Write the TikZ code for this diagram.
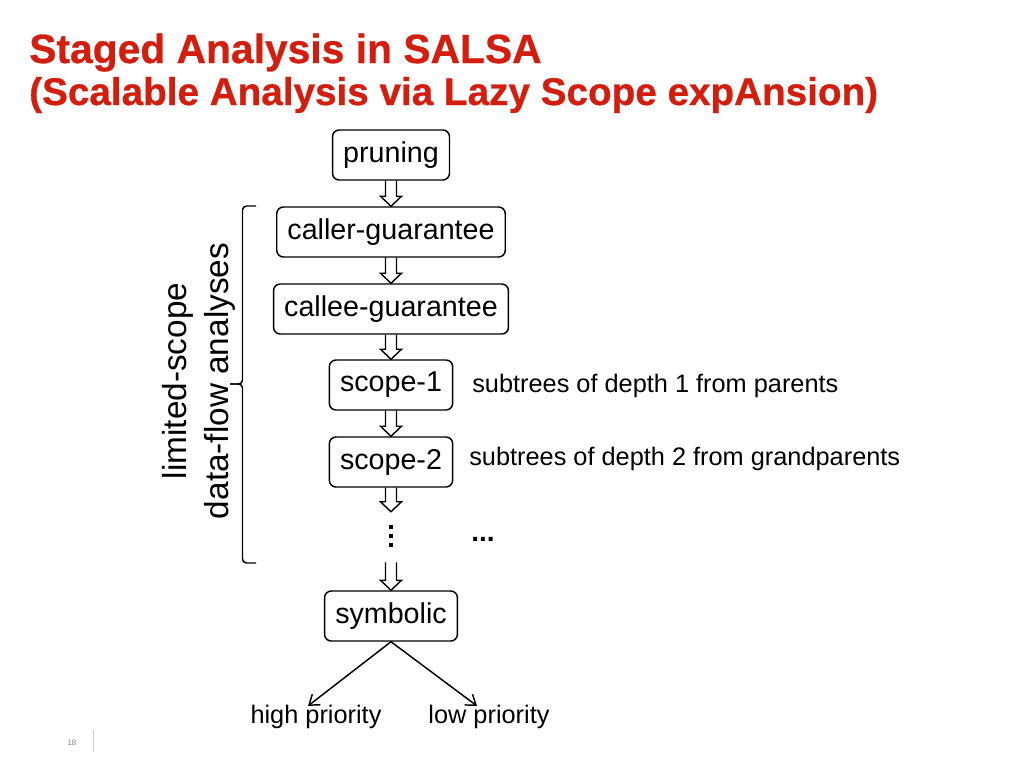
\documentclass[tikz,border=0pt]{standalone}
\usepackage{fontspec}
\setmainfont{Liberation Sans}
\newfontfamily\headfont[BoldFeatures={FakeBold=0.7}]{Liberation Sans}
\usetikzlibrary{calc,arrows.meta,positioning}
\definecolor{salsared}{RGB}{210,30,15}
\tikzset{
  stage/.style={draw,line width=1.1pt,rounded corners=5pt,minimum height=37.5pt,inner xsep=8pt,font=\fontsize{21.5}{26}\selectfont},
  note/.style={font=\fontsize{19}{23}\selectfont,inner sep=0pt},
  hollow/.style={line width=1.05pt,line join=miter},
  heading/.style={anchor=base west,inner sep=0pt,text=salsared},
  bracket/.style={line width=1.1pt,rounded corners=3pt},
}
\newcommand{\stagearrow}[2]{%
  \draw[hollow] ($(#1.south)+(-5.5,0)$) -- ($(#2.north)+(-5.5,-10)$) -- ($(#2.north)+(-10.5,-10)$) -- (#2.north)
    -- ($(#2.north)+(10.5,-10)$) -- ($(#2.north)+(5.5,-10)$) -- ($(#1.south)+(5.5,0)$);}

\begin{document}
\begin{tikzpicture}[x=0.75pt,y=-0.75pt]
  \useasboundingbox (0,0) rectangle (1024,768);
  % title
  \node[heading,font=\headfont\bfseries\fontsize{30.6}{36}\selectfont] (title) at (29,63) {Staged Analysis in SALSA};
  \node[heading,font=\headfont\bfseries\fontsize{29}{34}\selectfont] (subtitle) at (29,105) {(Scalable Analysis via Lazy Scope expAnsion)};
  % stages
  \node[stage] (pruning) at (391,155) {pruning};
  \node[stage] (caller) at (391,232) {caller-guarantee};
  \node[stage] (callee) at (391,309) {callee-guarantee};
  \node[stage] (scope1) at (391,385) {scope-1};
  \node[stage] (scope2) at (391,462) {scope-2};
  \node[inner sep=0pt,minimum height=37.5pt,minimum width=10pt] (dots) at (391,537) {};
  \foreach \y in {-10,-1,8}
    \fill ($(dots.center)+(-2,\y-2)$) rectangle ++(4,4);
  \node[stage] (symbolic) at (391,616) {symbolic};
  \stagearrow{pruning}{caller}
  \stagearrow{caller}{callee}
  \stagearrow{callee}{scope1}
  \stagearrow{scope1}{scope2}
  \stagearrow{scope2}{dots}
  \stagearrow{dots}{symbolic}
  % notes
  \node[note,anchor=west] (depth1) at (472,386) {subtrees of depth 1 from parents};
  \node[note,anchor=west] (depth2) at (469,459) {subtrees of depth 2 from grandparents};
  \node[note,anchor=west,font=\bfseries\fontsize{21}{23}\selectfont] (moredots) at (471,539) {...};
  % priorities
  \node[note] (high) at (316,717) {high priority};
  \node[note] (low) at (489,717) {low priority};
  \draw[-{Straight Barb[length=7pt,width=10pt]},line width=1.1pt] (symbolic.south) -- ($(high.north)+(-8,1)$);
  \draw[-{Straight Barb[length=7pt,width=10pt]},line width=1.1pt] (symbolic.south) -- ($(low.north)+(-12,1)$);
  % bracket and its label
  \draw[bracket] (256,206) -- (242.5,206) -- (242.5,384) -- (230,384);
  \draw[bracket] (256,563) -- (242.5,563) -- (242.5,384) -- (230,384);
  \node[rotate=90,align=center,font=\fontsize{25}{32}\selectfont] (scopelabel) at (199,381) {limited-scope\\data-flow analyses};
  % page number
  \node[text=gray,font=\fontsize{6}{7}\selectfont] (pagenum) at (72,743) {18};
  \draw[gray!40] (93,730) -- (93,752);
\end{tikzpicture}
\end{document}
